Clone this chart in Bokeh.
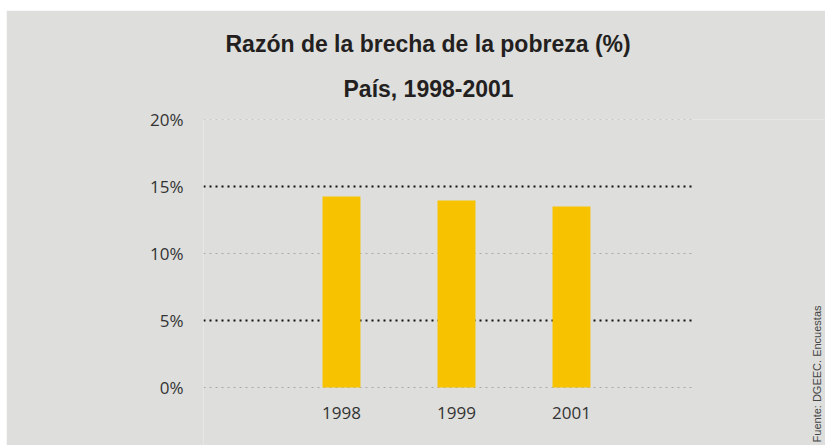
import math
from bokeh.plotting import figure
from bokeh.models import Range1d, FixedTicker, Title, Spacer, Label
from bokeh.layouts import column, row
from bokeh.embed import file_html
from bokeh.resources import INLINE

years = ["1998", "1999", "2001"]
values = [14.25, 13.95, 13.5]
positions = [1, 2, 3]
y_ticks = [0, 5, 10, 15, 20]
y_tick_labels = ["0%", "5%", "10%", "15%", "20%"]
dark_grid = [5, 15]
light_grid = [0, 10, 20]
title_lines = ["Razón de la brecha de la pobreza (%)", "País, 1998-2001"]
source_text = "Fuente: DGEEC. Encuestas"

BG = "#DEDEDC"
X0, X1 = -0.2, 5.209      # frame extends to the right edge (room for the source note)
GX1 = 4.07                 # right end of the grid lines
Y0, Y1 = -4.328, 20

p = figure(width=819, height=435, output_backend="svg", toolbar_location=None,
           x_range=Range1d(X0, X1), y_range=Range1d(Y0, Y1),
           background_fill_color=BG, border_fill_color=BG,
           min_border_left=197, min_border_right=0, min_border_top=109, min_border_bottom=0)
p.outline_line_color = None

# grid lines (drawn under the bars)
p.segment(x0=X0, x1=GX1, y0=light_grid, y1=light_grid,
          line_color="#A9A9A9", line_dash="2 4", line_width=1)
p.segment(x0=X0, x1=GX1, y0=dark_grid, y1=dark_grid,
          line_color="#111111", line_dash="2 4", line_width=2)

p.vbar(x=positions, top=values, width=0.33, color="#F7C300", line_color=None)

# axes
p.xaxis.fixed_location = 0
p.xaxis.ticker = FixedTicker(ticks=positions)
p.xaxis.major_label_overrides = {pos: y for pos, y in zip(positions, years)}
p.yaxis.ticker = FixedTicker(ticks=y_ticks)
p.yaxis.major_label_overrides = {t: l for t, l in zip(y_ticks, y_tick_labels)}
for ax in (p.xaxis[0], p.yaxis[0]):
    ax.axis_line_color = None
    ax.major_tick_line_color = None
    ax.minor_tick_line_color = None
    ax.major_label_text_font = "Open Sans"
    ax.major_label_text_font_size = "17px"
    ax.major_label_text_color = "#333333"
p.yaxis.major_label_standoff = 14
p.xaxis.major_label_standoff = 13
p.xgrid.visible = False
p.ygrid.visible = False

# titles (p.title is outermost, added titles sit nearer the frame)
p.title = Title(text=title_lines[0], align="left", offset=22, standoff=0,
                text_font="Liberation Sans", text_font_style="bold", text_font_size="23px",
                text_color="#231F20")
p.add_layout(Title(text=title_lines[1], align="left", offset=140, standoff=35,
                   text_font="Liberation Sans", text_font_style="bold", text_font_size="23px",
                   text_color="#231F20"), "above")

# rotated source note
p.add_layout(Label(x=5.139, y=-4.10, text=source_text, angle=math.pi / 2,
                   text_align="left", text_baseline="middle",
                   text_font="Liberation Sans", text_font_size="11px", text_color="#444444"))

layout = column(Spacer(height=10), row(Spacer(width=6), p))
open("out.html", "w").write(file_html(layout, INLINE))
